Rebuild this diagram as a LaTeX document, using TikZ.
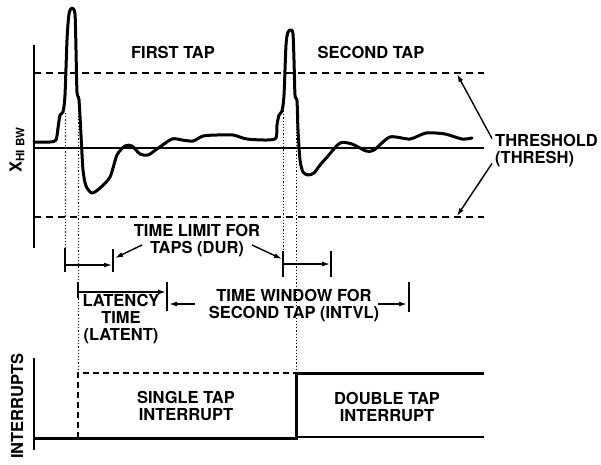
\documentclass[tikz,border=0pt]{standalone}
\usepackage{fontspec}
\setmainfont{texgyreheros}[Extension=.otf, UprightFont=*-regular, BoldFont=*-bold]
\usetikzlibrary{arrows.meta,positioning}

\begin{document}
\begin{tikzpicture}[x=1pt,y=-1pt,
        lbl/.style = {font=\fontsize{16.5}{17}\selectfont\bfseries, align=center, inner sep=0pt},
        axis/.style = {line width=1.6pt},
        sig/.style = {line width=3pt, line join=round, line cap=round},
        thr/.style = {line width=1.2pt, dash pattern=on 7pt off 5pt},
        guide/.style = {line width=1pt, dash pattern=on 1.2pt off 2pt},
        dim/.style = {line width=1.4pt, -{Latex[length=8pt,width=5pt]}},
        tickmark/.style = {line width=1.3pt}]
        \useasboundingbox (0,0) rectangle (601,464);
        % upper panel: axes and thresholds
        \draw[axis] (34,45) -- (34,248);
        \draw[axis] (34,148) -- (484,148);
        \draw[thr] (34,73) -- (484,73);
        \draw[thr] (34,217) -- (484,217);
        % accelerometer signal
        \draw[sig] plot[smooth, tension=0.45] coordinates {
            (34,142) (50,142) (56,140) (58,128) (60,115) (63,112) (65,95) (67,40)
            (69,14) (72,8) (75,14) (76,50) (77,92) (79,100) (81,135) (83,170)
            (86,186) (92,193) (100,188) (110,177) (117,155) (125,146) (132,146)
            (140,154) (148,155) (157,149) (172,139) (182,140) (193,141) (203,136)
            (217,135) (233,135) (247,139) (267,140) (276,138) (277,125) (279,115)
            (282,111) (284,95) (286,45) (288,32) (291,30) (293,34) (294,60)
            (295,95) (297,101) (298,130) (300,160) (303,172) (308,175) (314,173)
            (320,165) (328,156) (340,143) (352,144) (366,151) (374,150) (390,137)
            (410,139) (426,133) (445,134) (462,139) (472,138)};
        % guide lines from the taps
        \draw[guide] (65,113) -- (65,249);
        \draw[guide] (78,100) -- (78,373);
        \draw[guide] (283,111) -- (283,252);
        \draw[guide] (296,100) -- (296,373);
        \node[lbl] (first) at (173,52) {FIRST TAP};
        \node[lbl] (second) at (371,52) {SECOND TAP};
        \node[lbl, anchor=west, align=left] (thresh) at (495,151) {THRESHOLD\\(THRESH)};
        \node[lbl, rotate=90] (xhi) at (17,150) {X\textsubscript{\bfseries HI BW}};
        \coordinate (hi) at (457,74);
        \coordinate (lo) at (457,216);
        \draw[dim] ([xshift=-3pt, yshift=-4pt]thresh.north west) -- (hi);
        \draw[dim] ([xshift=-3pt, yshift=4pt]thresh.south west) -- (lo);
        % time limit for taps
        \draw[tickmark] (65,248) -- (65,272);
        \draw[tickmark] (113,249) -- (113,272);
        \draw[dim] (65,265) -- (112,265);
        \draw[tickmark] (283,251) -- (283,277);
        \draw[tickmark] (331,251) -- (331,277);
        \draw[dim] (283,264) -- (330,264);
        \node[lbl] (dur) at (197,241) {TIME LIMIT FOR\\TAPS (DUR)};
        \coordinate (durA) at (115,258);
        \coordinate (durB) at (282,259);
        \draw[dim] (142,245) -- (durA);
        \draw[dim] (252,245) -- (durB);
        % latency and window
        \draw[tickmark] (78,282) -- (78,298);
        \draw[tickmark] (167,282) -- (167,311);
        \draw[dim] (78,292) -- (166,292);
        \node[lbl] (latent) at (121,319) {LATENCY\\TIME\\(LATENT)};
        \node[lbl] (intvl) at (294,306) {TIME WINDOW FOR\\SECOND TAP (INTVL)};
        \draw[tickmark] (409,282) -- (409,312);
        \draw[dim] (195,304) -- (169,304);
        \draw[dim] (378,304) -- (407,304);
        % interrupt panel
        \draw[axis] (34,358) -- (34,450);
        \node[lbl, rotate=90] (irq) at (17,406) {INTERRUPTS};
        \draw[line width=1.5pt, dash pattern=on 6pt off 4pt] (78,438) -- (78,373) -- (296,373);
        \draw[line width=1.8pt] (296,437) -- (484,437);
        \draw[line width=3pt] (34,438) -- (296,438) -- (296,373) -- (484,373);
        \node[lbl] (single) at (186,406) {SINGLE TAP\\INTERRUPT};
        \node[lbl] (double) at (387,407) {DOUBLE TAP\\INTERRUPT};
\end{tikzpicture}
\end{document}
